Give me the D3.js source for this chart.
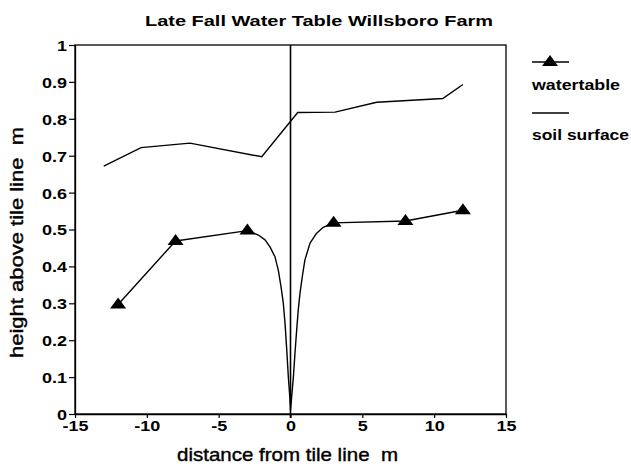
<!DOCTYPE html>
<html>
<head>
<meta charset="utf-8">
<script src="https://cdn.jsdelivr.net/npm/d3@7"></script>
<style>
  html, body { margin: 0; padding: 0; background: #fff; }
  text { font-family: "Liberation Sans", Arial, Helvetica, sans-serif; fill: #000; }
</style>
</head>
<body>
<svg id="chart" width="631" height="464"></svg>
<script>
// ---- data ----
const title = "Late Fall Water Table Willsboro Farm";
const xLabel = "distance from tile line  m";
const yLabel = "height above tile line  m";
const xTicks = [-15, -10, -5, 0, 5, 10, 15];
const yTicks = [0, 0.1, 0.2, 0.3, 0.4, 0.5, 0.6, 0.7, 0.8, 0.9, 1];

// soil surface
const soilX = [-13, -10.4, -7, -2, 0.5, 3.1, 6, 10.6, 12];
const soilY = [0.672, 0.722, 0.734, 0.697, 0.817, 0.818, 0.845, 0.855, 0.893];

// measured water table (triangles)
const wtX = [-12, -8, -3, 3, 8, 12];
const wtY = [0.297, 0.469, 0.497, 0.518, 0.523, 0.552];

// drawdown curve toward the tile
const dipX = [-2.24, -1.77, -1.43, -1.08, -0.85, -0.66, -0.5, -0.38, -0.26, -0.15, -0.05, 0,
              0.2, 0.31, 0.43, 0.54, 0.66, 0.82, 1.0, 1.36, 1.82, 2.28, 2.63];
const dipY = [0.485, 0.472, 0.453, 0.426, 0.39, 0.345, 0.3, 0.245, 0.173, 0.1, 0.047, 0.01,
              0.1, 0.164, 0.228, 0.282, 0.327, 0.372, 0.417, 0.463, 0.49, 0.506, 0.512];

// ---- layout ----
const svg = d3.select("#chart");
const L = 75, R = 506, T = 45, B = 414;
const x = d3.scaleLinear().domain([-15, 15]).range([L, R]);
const y = d3.scaleLinear().domain([0, 1]).range([B, T]);

// frame
svg.append("rect").attr("x", L).attr("y", T).attr("width", R - L).attr("height", B - T)
  .attr("fill", "none").attr("stroke", "#000").attr("stroke-width", 1.3);

// approximate text width at 1px font (Arial metrics) for stretching tick labels
const charW = c => c === "." ? 0.278 : c === "-" ? 0.333 : 0.556;
const strW = s => Array.from(s).reduce((a, c) => a + charW(c), 0);
const TICK_EM = 18.0; // horizontal px per em (stretched like the scan)

const fmtX = d => String(d).replace("\u2212", "-");
const fmtY = d => (d === 0 || d === 1) ? String(d) : d.toFixed(1);

// axes
const xAxis = svg.append("g").attr("transform", `translate(0,${B})`)
  .call(d3.axisBottom(x).tickValues(xTicks).tickSize(4).tickSizeOuter(0).tickFormat(fmtX));
const yAxis = svg.append("g").attr("transform", `translate(${L},0)`)
  .call(d3.axisLeft(y).tickValues(yTicks).tickSize(6).tickSizeOuter(0).tickFormat(fmtY));
[xAxis, yAxis].forEach(g => {
  g.select(".domain").attr("stroke", "#000").attr("stroke-width", 1.3);
  g.selectAll(".tick line").attr("stroke", "#000").attr("stroke-width", 1.2);
  g.selectAll(".tick text").attr("font-size", 15).attr("font-weight", "bold").attr("fill", "#000")
    .style("font-family", "'Liberation Sans', Arial, sans-serif")
    .attr("textLength", function() { return strW(this.textContent) * TICK_EM; })
    .attr("lengthAdjust", "spacingAndGlyphs");
});
xAxis.selectAll(".tick text").attr("dy", null).attr("y", 17);
yAxis.selectAll(".tick text").attr("x", -8).attr("dy", "0.36em");

// vertical tile line at x = 0
svg.append("line").attr("x1", x(0)).attr("x2", x(0)).attr("y1", T).attr("y2", B + 4)
  .attr("stroke", "#000").attr("stroke-width", 1.6);

const line = d3.line().x(d => x(d[0])).y(d => y(d[1]));

// soil surface
const soil = soilX.map((v, i) => [v, soilY[i]]);
svg.append("path").datum(soil).attr("d", line)
  .attr("fill", "none").attr("stroke", "#000").attr("stroke-width", 1.4);

// water table line incl. drawdown
const wtAll = wtX.map((v, i) => [v, wtY[i]])
  .concat(dipX.map((v, i) => [v, dipY[i]]))
  .sort((a, b) => a[0] - b[0]);
svg.append("path").datum(wtAll).attr("d", line)
  .attr("fill", "none").attr("stroke", "#000").attr("stroke-width", 1.4).attr("stroke-linejoin", "round");

// triangles
const tri = "M0,-6 L8,5 L-8,5 Z";
svg.selectAll(".tri").data(wtX.map((v, i) => [v, wtY[i]])).enter().append("path")
  .attr("class", "tri").attr("d", tri)
  .attr("transform", d => `translate(${x(d[0])},${y(d[1]) - 1})`)
  .attr("fill", "#000");

// title
svg.append("text").attr("x", 319).attr("y", 26).attr("text-anchor", "middle")
  .attr("font-size", 15).attr("font-weight", "bold")
  .attr("textLength", 348).attr("lengthAdjust", "spacingAndGlyphs").text(title);

// axis labels
svg.append("text").attr("x", 287.5).attr("y", 461).attr("text-anchor", "middle")
  .attr("font-size", 19).style("stroke", "#000").style("stroke-width", 0.4).style("white-space", "pre")
  .attr("textLength", 221).attr("lengthAdjust", "spacingAndGlyphs").text(xLabel);
svg.append("text").attr("transform", "translate(23,242.5) rotate(-90)").attr("text-anchor", "middle")
  .attr("font-size", 19).style("stroke", "#000").style("stroke-width", 0.4).style("white-space", "pre")
  .attr("textLength", 231).attr("lengthAdjust", "spacingAndGlyphs").text(yLabel);

// legend
const lg = svg.append("g");
lg.append("line").attr("x1", 532).attr("x2", 569).attr("y1", 62).attr("y2", 62)
  .attr("stroke", "#000").attr("stroke-width", 1.4);
lg.append("path").attr("d", tri).attr("transform", "translate(550,61)").attr("fill", "#000");
lg.append("text").attr("x", 532).attr("y", 90).attr("font-size", 15).attr("font-weight", "bold")
  .attr("textLength", 88).attr("lengthAdjust", "spacingAndGlyphs").text("watertable");
lg.append("line").attr("x1", 532).attr("x2", 569).attr("y1", 113).attr("y2", 113)
  .attr("stroke", "#000").attr("stroke-width", 1.4);
lg.append("text").attr("x", 532).attr("y", 140).attr("font-size", 15).attr("font-weight", "bold")
  .attr("textLength", 97).attr("lengthAdjust", "spacingAndGlyphs").text("soil surface");
</script>
</body>
</html>
